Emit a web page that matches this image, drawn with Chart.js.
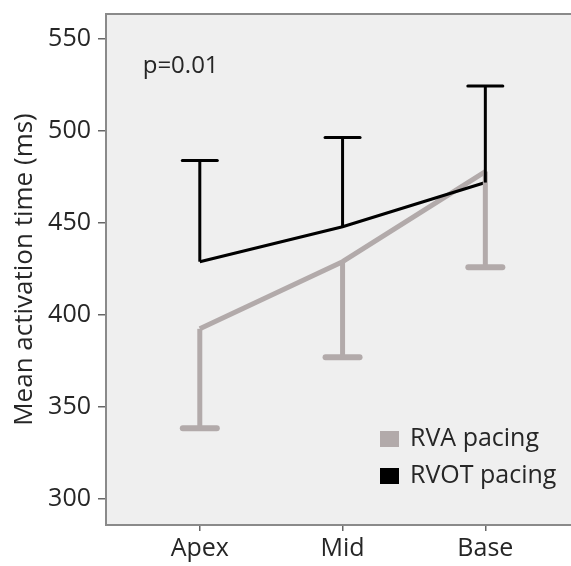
<!DOCTYPE html>
<html>
<head>
<meta charset="utf-8">
<script src="https://cdn.jsdelivr.net/npm/chart.js@4.4.0/dist/chart.umd.min.js"></script>
<style>
  html, body { margin: 0; padding: 0; background: #ffffff; overflow: hidden; }
  #wrap { position: relative; width: 571px; height: 566px; }
</style>
</head>
<body>
<div id="wrap"><canvas id="c"></canvas></div>
<script>
const categories = ['Apex', 'Mid', 'Base'];
const rvaMean = [392.5, 429, 478];
const rvaLower = [338.5, 377, 426];
const rvotMean = [429, 448, 472];
const rvotUpper = [484, 496.5, 524.5];
const yTicks = [300, 350, 400, 450, 500, 550];
const seriesLabels = ['RVA pacing', 'RVOT pacing'];
const pText = 'p=0.01';

const FONT = "'Open Sans', 'DejaVu Sans', sans-serif";
const TEXT_COLOR = '#262626';
const RVA_COLOR = '#b2aaaa';
const RVOT_COLOR = '#000000';

const toXY = (arr) => arr.map((v, i) => ({ x: i, y: v }));

const decorPlugin = {
  id: 'decor',
  beforeDraw(chart) {
    const { ctx, chartArea: a } = chart;
    ctx.save();
    ctx.fillStyle = '#efefef';
    ctx.fillRect(a.left, a.top, a.right - a.left, a.bottom - a.top);
    ctx.restore();
  },
  afterDraw(chart) {
    const { ctx, chartArea: a, scales } = chart;
    const x = scales.x, y = scales.y;
    ctx.save();
    ctx.strokeStyle = '#8a8a8a';
    ctx.lineWidth = 2;
    ctx.beginPath();
    ctx.moveTo(a.left, a.top);
    ctx.lineTo(a.right, a.top);
    ctx.stroke();
    const drawBar = (means, ends, color, lw, capW, capLw) => {
      for (let i = 0; i < means.length; i++) {
        const px = x.getPixelForValue(i);
        const y0 = y.getPixelForValue(means[i]);
        const y1 = y.getPixelForValue(ends[i]);
        ctx.strokeStyle = color;
        ctx.lineWidth = lw;
        ctx.lineCap = 'butt';
        ctx.beginPath();
        ctx.moveTo(px, y0);
        ctx.lineTo(px, y1);
        ctx.stroke();
        ctx.lineWidth = capLw;
        ctx.lineCap = 'round';
        ctx.beginPath();
        ctx.moveTo(px - capW / 2, y1);
        ctx.lineTo(px + capW / 2, y1);
        ctx.stroke();
      }
    };
    drawBar(rvaMean, rvaLower, RVA_COLOR, 5, 34, 6);
    drawBar(rvotMean, rvotUpper, RVOT_COLOR, 3, 35, 3);
    ctx.fillStyle = TEXT_COLOR;
    ctx.font = '24px ' + FONT;
    ctx.textAlign = 'left';
    ctx.textBaseline = 'alphabetic';
    ctx.fillText(pText, x.getPixelForValue(-0.4), y.getPixelForValue(531.5));
    const ds = chart.data.datasets;
    const legendItems = [ds[1], ds[0]];
    ctx.font = '25px ' + FONT;
    ctx.textBaseline = 'middle';
    legendItems.forEach((d, k) => {
      const cy = 439 + k * 37;
      ctx.fillStyle = d.borderColor;
      ctx.fillRect(380, cy - 8, 19, 16);
      ctx.fillStyle = TEXT_COLOR;
      ctx.fillText(d.label, 410, cy);
    });
    ctx.restore();
  }
};

new Chart(document.getElementById('c'), {
  type: 'line',
  data: {
    datasets: [
      {
        label: seriesLabels[1],
        data: toXY(rvotMean),
        borderColor: RVOT_COLOR,
        backgroundColor: RVOT_COLOR,
        borderWidth: 3,
        pointRadius: 0,
        tension: 0,
        order: 0
      },
      {
        label: seriesLabels[0],
        data: toXY(rvaMean),
        borderColor: RVA_COLOR,
        backgroundColor: RVA_COLOR,
        borderWidth: 5,
        borderJoinStyle: 'round',
        pointRadius: 0,
        tension: 0,
        order: 1
      }
    ]
  },
  options: {
    responsive: true,
    maintainAspectRatio: false,
    animation: false,
    layout: { padding: { top: 14, right: 0, left: 0, bottom: 0 } },
    plugins: { legend: { display: false }, tooltip: { enabled: false } },
    scales: {
      x: {
        type: 'linear',
        min: -0.657,
        max: 2.6,
        afterBuildTicks(scale) { scale.ticks = categories.map((_, i) => ({ value: i })); },
        afterFit(scale) { scale.height = 41; scale.paddingLeft = 0; scale.paddingRight = 0; },
        ticks: {
          callback: (v) => categories[v],
          font: { family: FONT, size: 25, lineHeight: 1 },
          color: TEXT_COLOR,
          padding: 5,
          autoSkip: false,
          maxRotation: 0
        },
        grid: { drawOnChartArea: false, drawTicks: true, tickLength: 6, color: '#666', lineWidth: 1.5 },
        border: { display: true, color: '#8a8a8a', width: 2 }
      },
      y: {
        min: 285.9,
        max: 563.6,
        afterBuildTicks(scale) { scale.ticks = yTicks.map(v => ({ value: v })); },
        afterFit(scale) { scale.width = 106; scale.paddingTop = 0; scale.paddingBottom = 0; },
        ticks: {
          font: { family: FONT, size: 25, lineHeight: 1 },
          color: TEXT_COLOR,
          padding: 7
        },
        grid: { drawOnChartArea: false, drawTicks: true, tickLength: 8, color: '#666', lineWidth: 1.5 },
        border: { display: true, color: '#8a8a8a', width: 2 },
        title: {
          display: true,
          text: 'Mean activation time (ms)',
          font: { family: FONT, size: 26 },
          color: TEXT_COLOR,
          padding: { top: 9, bottom: 0 }
        }
      }
    }
  },
  plugins: [decorPlugin]
});
</script>
</body>
</html>
